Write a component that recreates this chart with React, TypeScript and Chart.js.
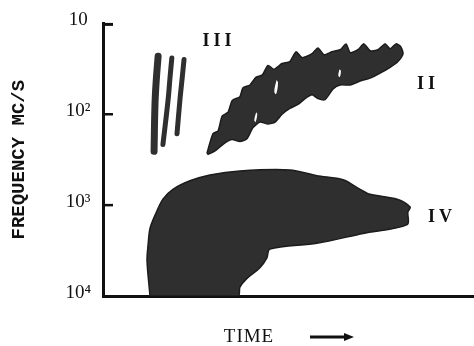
import React, { useEffect, useRef } from 'react';
import { Chart, registerables } from 'chart.js';

Chart.register(...registerables);

// Frequency axis (MC/S), reversed logarithmic
const TICK_VALUES = [10, 100, 1000, 10000];
const TICK_LABELS = ['10', '10²', '10³', '10⁴'];

// Time axis in arbitrary units
const TIME_MIN = 0;
const TIME_MAX = 100;

// Type III bursts (three fast-drift strokes)
const III_A_T = [14.9, 14.4, 14.05, 13.8];
const III_A_F = [23, 42, 78, 256];
const III_B_T = [18.6, 18.1, 17.6, 16.2];
const III_B_F = [24, 40, 69, 215];
const III_C_T = [21.9, 21.4, 20.8, 20.0];
const III_C_F = [25, 40, 69, 164];

// Type II burst (slow-drift band), outline upper edge then lower edge
const II_T = [28.1, 29.7, 31.1, 32.2, 33.8, 34.9, 37.0, 37.8, 39.7, 41.4, 43.0, 44.6, 46.2, 48.4, 50.5, 52.2, 53.8, 56.5, 58.1, 59.7, 61.9, 64.1, 65.7, 66.8, 68.9, 70.5, 72.2, 74.3, 76.2, 77.6, 79.2, 80.5,
  81.1, 79.7, 77.6, 74.9, 72.2, 69.5, 66.8, 64.1, 62.2, 60.0, 58.1, 56.5, 54.6, 52.7, 50.5, 48.4, 46.5, 44.6, 42.4, 40.5, 38.9, 37.0, 34.9, 32.7, 30.5, 28.4, 28.1];
const II_F = [269, 164, 152, 105, 95, 70.7, 64, 51.3, 47.6, 39, 37.1, 29, 32, 27.6, 26.3, 20.5, 23.8, 21.5, 18.6, 22.1, 20.5, 19.5, 16.8, 21, 19.5, 16.8, 20, 19.5, 16.8, 19, 16.8, 18.1,
  21.5, 26.3, 30.5, 35.3, 40, 43.1, 47.6, 47.6, 52.5, 69, 67.3, 61, 67.3, 78, 86.2, 100, 122, 128, 122, 141, 186, 200, 190, 210, 250, 276, 269];

// Small gaps inside the type II band
const HOLE_A_T = [46.9, 47.3, 46.8, 46.3, 46.9];
const HOLE_A_F = [42, 45, 60, 56, 42];
const HOLE_B_T = [41.4, 41.7, 41.2, 40.9, 41.4];
const HOLE_B_F = [95, 100, 122, 115, 95];
const HOLE_C_T = [63.9, 64.3, 64.0, 63.6, 63.9];
const HOLE_C_F = [32, 33.5, 39, 37.5, 32];

// Type IV burst (broadband continuum)
const IV_T = [12.7, 11.9, 12.2, 12.7, 14.1, 16.2, 18.9, 23.5, 28.9, 37.0, 50.5, 57.8, 64.9, 69.5, 72.2, 79.5, 83.0, 82.4, 82.2, 70.3, 57.8, 45.1, 44.3, 42.4, 38.9, 37.0, 36.5, 12.7];
const IV_F = [10000, 4100, 2690, 1810, 1280, 860, 670, 540, 465, 420, 410, 475, 525, 670, 760, 860, 1050, 1190, 1640, 2050, 2630, 3050, 3800, 4880, 6400, 8000, 10000, 10000];

// Burst type labels
const LABELS = ['III', 'II', 'IV'];
const LABEL_T = [30.8, 87.3, 91.1];
const LABEL_F = [15.6, 46.4, 1380];

const X_TITLE = 'TIME';
const Y_TITLE = 'FREQUENCY MC/S';

const INK = '#111111';
const FILL = '#2f2f2f';

const pts = (t: number[], f: number[]) => t.map((x, i) => ({ x, y: f[i] }));

export default function App() {
  const ref = useRef<HTMLCanvasElement>(null);

  useEffect(() => {
    const canvas = ref.current;
    if (!canvas) return;

    const shape = (label: string, t: number[], f: number[], color: string, order: number, tension: number) => ({
      label,
      data: pts(t, f),
      borderColor: color === '#ffffff' ? '#ffffff' : '#1c1c1c',
      borderWidth: color === '#ffffff' ? 0 : 1.5,
      backgroundColor: color,
      fill: 'shape',
      pointRadius: 0,
      tension,
      order,
    });
    const stroke = (label: string, t: number[], f: number[], w: number) => ({
      label,
      data: pts(t, f),
      borderColor: FILL,
      borderWidth: w,
      borderCapStyle: 'round',
      fill: false,
      pointRadius: 0,
      tension: 0.4,
      order: 2,
    });

    const annotate = {
      id: 'annotate',
      afterDraw(chart: any) {
        const { ctx, chartArea, scales } = chart;
        const xs = scales.x;
        const ys = scales.y;
        ctx.save();
        // inward tick marks on the frequency axis
        ctx.strokeStyle = INK;
        TICK_VALUES.slice(0, -1).forEach((v, i) => {
          const y = ys.getPixelForValue(v) + (i === 0 ? 1 : 0);
          ctx.lineWidth = i === 0 ? 3 : 2.5;
          ctx.beginPath();
          ctx.moveTo(chartArea.left, y);
          ctx.lineTo(chartArea.left + 10, y);
          ctx.stroke();
        });
        // burst labels
        ctx.fillStyle = INK;
        ctx.font = 'bold 18px "Liberation Serif", serif';
        ctx.textAlign = 'center';
        ctx.textBaseline = 'middle';
        (ctx as any).letterSpacing = '4px';
        LABELS.forEach((s, i) => {
          ctx.fillText(s, xs.getPixelForValue(LABEL_T[i]) + 2, ys.getPixelForValue(LABEL_F[i]));
        });
        // time label and arrow
        const cx = (chartArea.left + chartArea.right) / 2;
        const ty = chartArea.bottom + 41;
        ctx.font = '19px "Liberation Serif", serif';
        (ctx as any).letterSpacing = '1px';
        ctx.fillText(X_TITLE, cx - 39, ty);
        (ctx as any).letterSpacing = '0px';
        ctx.lineWidth = 3;
        ctx.beginPath();
        ctx.moveTo(cx + 22, ty);
        ctx.lineTo(cx + 58, ty);
        ctx.stroke();
        ctx.beginPath();
        ctx.moveTo(cx + 66, ty);
        ctx.lineTo(cx + 56, ty - 4);
        ctx.lineTo(cx + 56, ty + 4);
        ctx.closePath();
        ctx.fill();
        ctx.restore();
      },
    };

    const chart = new Chart(canvas, {
      type: 'line',
      data: {
        datasets: [
          shape('gap A', HOLE_A_T, HOLE_A_F, '#ffffff', 0, 0.4),
          shape('gap B', HOLE_B_T, HOLE_B_F, '#ffffff', 0, 0.4),
          shape('gap C', HOLE_C_T, HOLE_C_F, '#ffffff', 0, 0.4),
          shape('Type II', II_T, II_F, FILL, 1, 0.2),
          shape('Type IV', IV_T, IV_F, FILL, 1, 0.3),
          stroke('Type III a', III_A_T, III_A_F, 7),
          stroke('Type III b', III_B_T, III_B_F, 5),
          stroke('Type III c', III_C_T, III_C_F, 5),
        ] as any,
      },
      options: {
        animation: false,
        responsive: false,
        devicePixelRatio: 1,
        layout: { padding: { top: 17, right: 1, left: 0, bottom: 0 } },
        plugins: { legend: { display: false }, tooltip: { enabled: false } },
        scales: {
          x: {
            type: 'linear',
            min: TIME_MIN,
            max: TIME_MAX,
            grid: { display: false, drawTicks: false },
            ticks: { display: false },
            border: { display: true, width: 3, color: INK },
            afterFit: (s: any) => { s.height = 50; },
          },
          y: {
            type: 'logarithmic',
            reverse: true,
            min: TICK_VALUES[0],
            max: TICK_VALUES[TICK_VALUES.length - 1],
            afterBuildTicks: (s: any) => { s.ticks = TICK_VALUES.map((v) => ({ value: v })); },
            ticks: {
              callback: (v: any) => TICK_LABELS[TICK_VALUES.indexOf(Number(v))],
              font: { family: '"Liberation Serif", serif', size: 19 },
              color: INK,
              padding: 12,
              crossAlign: 'center',
              labelOffset: -3,
              autoSkip: false,
            },
            grid: { display: false, drawTicks: false },
            border: { display: true, width: 3, color: INK },
            title: {
              display: true,
              text: Y_TITLE,
              font: { family: '"Liberation Mono", monospace', size: 19, weight: 'bold' },
              color: INK,
              padding: { top: 8, bottom: 0 },
            },
            afterFit: (s: any) => { s.width = 103; },
          },
        },
      } as any,
      plugins: [annotate],
    });
    return () => chart.destroy();
  }, []);

  return (
    <div style={{ position: 'fixed', left: 0, top: 0, width: 474, height: 346, background: '#fff' }}>
      <canvas ref={ref} width={474} height={346} />
    </div>
  );
}
